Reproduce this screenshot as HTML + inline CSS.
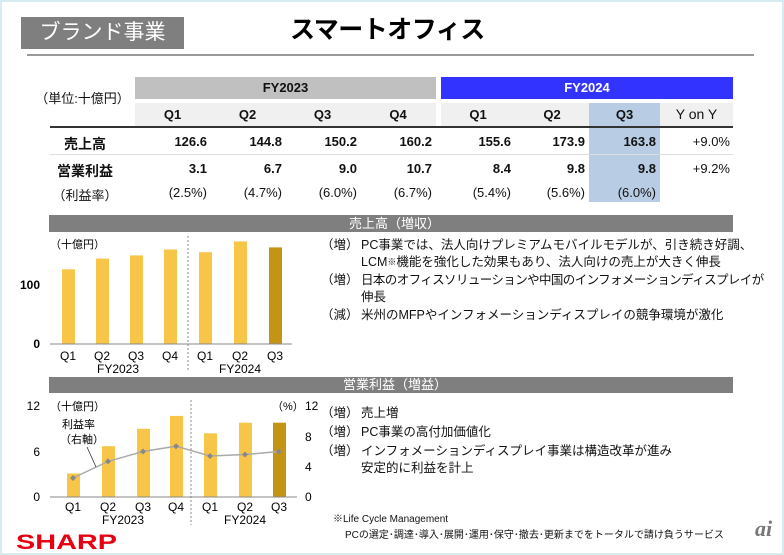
<!DOCTYPE html>
<html><head><meta charset="utf-8"><style>
*{margin:0;padding:0;box-sizing:border-box}
body{width:784px;height:555px;background:#fff;position:relative;overflow:hidden;font-family:"Liberation Sans","Noto Sans CJK JP",sans-serif;color:#111}
.frame{position:absolute;left:0;top:0;width:784px;height:555px;border:2px solid #d6ecf1}
.a{position:absolute;white-space:nowrap}
.c{text-align:center}
.r{text-align:right}
.b{font-weight:bold}
</style></head><body>
<div class="frame"></div>
<div class="a c" style="left:21px;top:17px;width:163px;height:32px;background:#7f7f7f;color:#fff;font-size:21px;line-height:32px">ブランド事業</div>
<div class="a b" style="left:290px;top:14px;font-size:25px;line-height:32px;color:#000;letter-spacing:-0.5px">スマートオフィス</div>
<div class="a" style="left:27px;top:54px;width:727px;height:2px;background:#999"></div>

<div class="a b c" style="left:135px;top:77px;width:301px;height:22px;background:#c0c0c0;font-size:13px;line-height:22px">FY2023</div>
<div class="a b c" style="left:441px;top:77px;width:292px;height:22px;background:#3333ff;color:#fff;font-size:13px;line-height:22px">FY2024</div>
<div class="a" style="left:135px;top:103px;width:301px;height:23px;background:#f0f0f0"></div>
<div class="a" style="left:441px;top:103px;width:292px;height:23px;background:#f0f0f0"></div>
<div class="a" style="left:589px;top:103px;width:71px;height:99px;background:#b8cce4"></div>
<div class="a" style="left:50px;top:126px;width:683px;height:1.5px;background:#333"></div>
<div class="a" style="left:50px;top:154px;width:683px;height:1px;background:#ddd"></div>
<div class="a c" style="left:35px;top:91px;width:95px;font-size:13px;line-height:16px">（単位:十億円）</div>
<div class="a b c" style="left:40px;top:134px;width:90px;font-size:14px">売上高</div>
<div class="a b c" style="left:40px;top:161px;width:90px;font-size:14px">営業利益</div>
<div class="a c" style="left:40px;top:185px;width:90px;font-size:13px">（利益率）</div>

<div style="font-size:13px">
<div class="a b c" style="left:135px;top:107px;width:75px">Q1</div>
<div class="a b c" style="left:210px;top:107px;width:75px">Q2</div>
<div class="a b c" style="left:285px;top:107px;width:75px">Q3</div>
<div class="a b c" style="left:360px;top:107px;width:76px">Q4</div>
<div class="a b c" style="left:441px;top:107px;width:74px">Q1</div>
<div class="a b c" style="left:515px;top:107px;width:74px">Q2</div>
<div class="a b c" style="left:589px;top:107px;width:71px">Q3</div>
<div class="a c" style="left:660px;top:106px;width:73px;font-size:14px">Y on Y</div>

<div class="a b r" style="left:135px;top:134px;width:72px">126.6</div>
<div class="a b r" style="left:210px;top:134px;width:72px">144.8</div>
<div class="a b r" style="left:285px;top:134px;width:72px">150.2</div>
<div class="a b r" style="left:360px;top:134px;width:72px">160.2</div>
<div class="a b r" style="left:441px;top:134px;width:70px">155.6</div>
<div class="a b r" style="left:515px;top:134px;width:70px">173.9</div>
<div class="a b r" style="left:589px;top:134px;width:67px">163.8</div>
<div class="a r" style="left:660px;top:134px;width:70px">+9.0%</div>
<div class="a b r" style="left:135px;top:161px;width:72px">3.1</div>
<div class="a b r" style="left:210px;top:161px;width:72px">6.7</div>
<div class="a b r" style="left:285px;top:161px;width:72px">9.0</div>
<div class="a b r" style="left:360px;top:161px;width:72px">10.7</div>
<div class="a b r" style="left:441px;top:161px;width:70px">8.4</div>
<div class="a b r" style="left:515px;top:161px;width:70px">9.8</div>
<div class="a b r" style="left:589px;top:161px;width:67px">9.8</div>
<div class="a r" style="left:660px;top:161px;width:70px">+9.2%</div>
<div class="a r" style="left:135px;top:185px;width:72px">(2.5%)</div>
<div class="a r" style="left:210px;top:185px;width:72px">(4.7%)</div>
<div class="a r" style="left:285px;top:185px;width:72px">(6.0%)</div>
<div class="a r" style="left:360px;top:185px;width:72px">(6.7%)</div>
<div class="a r" style="left:441px;top:185px;width:70px">(5.4%)</div>
<div class="a r" style="left:515px;top:185px;width:70px">(5.6%)</div>
<div class="a r" style="left:589px;top:185px;width:67px">(6.0%)</div>
</div>

<div class="a" style="left:49px;top:215px;width:684px;height:17px;background:#7f7f7f;color:#fff;font-size:13px;line-height:17px;padding-left:300px">売上高（増収）</div>
<div class="a" style="left:49px;top:377px;width:684px;height:16px;background:#7f7f7f;color:#fff;font-size:13px;line-height:16px;padding-left:294px">営業利益（増益）</div>

<svg class="a" style="left:0;top:0" width="784" height="555" font-family="Liberation Sans, Noto Sans CJK JP, sans-serif">
<text x="50" y="248" font-size="11">（十億円）</text>
<text x="40" y="289" font-size="12" text-anchor="end" font-weight="bold">100</text>
<text x="40" y="348" font-size="12" text-anchor="end" font-weight="bold">0</text>
<g fill="#f7c548">
<rect x="62" y="269.3" width="13" height="74.7"/>
<rect x="96" y="258.6" width="13" height="85.4"/>
<rect x="130" y="255.4" width="13" height="88.6"/>
<rect x="164" y="249.5" width="13" height="94.5"/>
<rect x="199" y="252.2" width="13" height="91.8"/>
<rect x="234" y="241.4" width="13" height="102.6"/>
<rect x="269" y="247.4" width="13" height="96.6" fill="#c49414"/>
</g>
<line x1="50" y1="344" x2="292" y2="344" stroke="#888" stroke-width="1"/>
<line x1="188" y1="236" x2="188" y2="370" stroke="#888" stroke-dasharray="2,2"/>
<g font-size="12" text-anchor="middle">
<text x="68" y="360">Q1</text><text x="102" y="360">Q2</text><text x="136" y="360">Q3</text><text x="170" y="360">Q4</text>
<text x="205" y="360">Q1</text><text x="240" y="360">Q2</text><text x="275" y="360">Q3</text>
<text x="118" y="373">FY2023</text><text x="240" y="373">FY2024</text>
</g>
<text x="40" y="410" font-size="12" text-anchor="end">12</text>
<text x="40" y="456" font-size="12" text-anchor="end">6</text>
<text x="40" y="501" font-size="12" text-anchor="end">0</text>
<text x="50" y="410" font-size="11">（十億円）</text>
<text x="272" y="410" font-size="11">（%）</text>
<text x="305" y="410" font-size="12">12</text>
<text x="305" y="441" font-size="12">8</text>
<text x="305" y="471" font-size="12">4</text>
<text x="305" y="501" font-size="12">0</text>
<g fill="#f7c548">
<rect x="67" y="473.5" width="13" height="23.5"/>
<rect x="102" y="446.2" width="13" height="50.8"/>
<rect x="137" y="428.8" width="13" height="68.2"/>
<rect x="170" y="415.9" width="13" height="81.1"/>
<rect x="204" y="433.3" width="13" height="63.7"/>
<rect x="239" y="422.7" width="13" height="74.3"/>
<rect x="273" y="422.7" width="13" height="74.3" fill="#c49414"/>
</g>
<line x1="50" y1="497" x2="297" y2="497" stroke="#888"/>
<line x1="191" y1="400" x2="191" y2="525" stroke="#888" stroke-dasharray="2,2"/>
<polyline points="73,478 108,461.4 143,451.5 176,446.2 210,456 245,454.5 279,451.5" fill="none" stroke="#aaa" stroke-width="1.5"/>
<g fill="#888">
<path d="M73,475 l3,3 -3,3 -3,-3z"/><path d="M108,458.4 l3,3 -3,3 -3,-3z"/><path d="M143,448.5 l3,3 -3,3 -3,-3z"/><path d="M176,443.2 l3,3 -3,3 -3,-3z"/><path d="M210,453 l3,3 -3,3 -3,-3z"/><path d="M245,451.5 l3,3 -3,3 -3,-3z"/><path d="M279,448.5 l3,3 -3,3 -3,-3z"/>
</g>
<text x="62" y="428" font-size="11">利益率</text>
<text x="60" y="443" font-size="11">（右軸）</text>
<line x1="87" y1="447" x2="96" y2="467" stroke="#333" stroke-width="0.8"/>
<g font-size="12" text-anchor="middle">
<text x="73" y="511">Q1</text><text x="108" y="511">Q2</text><text x="143" y="511">Q3</text><text x="176" y="511">Q4</text>
<text x="210" y="511">Q1</text><text x="245" y="511">Q2</text><text x="279" y="511">Q3</text>
<text x="123" y="524">FY2023</text><text x="245" y="524">FY2024</text>
</g>
<text x="16" y="549" font-size="21" font-weight="bold" fill="#e60012" textLength="101" lengthAdjust="spacingAndGlyphs">SHARP</text>
<text x="755" y="536" font-size="22" font-style="italic" font-weight="bold" fill="#777" font-family="Liberation Serif, serif">ai</text>
</svg>

<div style="font-size:12.5px;line-height:17px">
<div class="a" style="left:321px;top:237px">（増）</div>
<div class="a" style="left:361px;top:237px">PC事業では、法人向けプレミアムモバイルモデルが、引き続き好調、</div>
<div class="a" style="left:361px;top:254px">LCM<span style="font-size:9px;vertical-align:top">※</span>機能を強化した効果もあり、法人向けの売上が大きく伸長</div>
<div class="a" style="left:321px;top:272px">（増）</div>
<div class="a" style="left:361px;top:272px;letter-spacing:-0.6px">日本のオフィスソリューションや中国のインフォメーションディスプレイが</div>
<div class="a" style="left:361px;top:289px">伸長</div>
<div class="a" style="left:321px;top:307px">（減）</div>
<div class="a" style="left:361px;top:307px">米州のMFPやインフォメーションディスプレイの競争環境が激化</div>
<div class="a" style="left:321px;top:405px">（増）</div>
<div class="a" style="left:361px;top:405px">売上増</div>
<div class="a" style="left:321px;top:424px">（増）</div>
<div class="a" style="left:361px;top:424px">PC事業の高付加価値化</div>
<div class="a" style="left:321px;top:443px">（増）</div>
<div class="a" style="left:361px;top:443px">インフォメーションディスプレイ事業は構造改革が進み</div>
<div class="a" style="left:361px;top:460px">安定的に利益を計上</div>
</div>
<div class="a" style="left:333px;top:510px;font-size:10px">※Life Cycle Management</div>
<div class="a" style="left:345px;top:526px;font-size:10px">PCの選定･調達･導入･展開･運用･保守･撤去･更新までをトータルで請け負うサービス</div>
</body></html>
